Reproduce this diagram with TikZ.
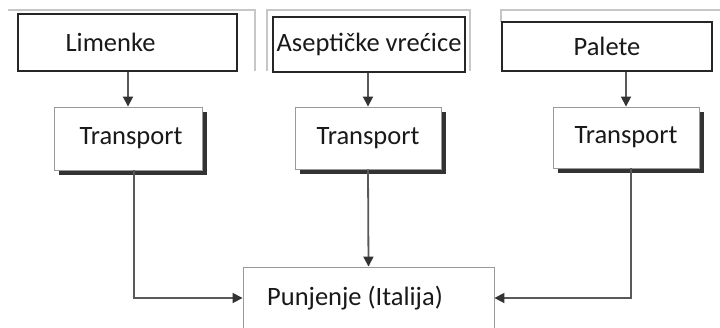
\documentclass[tikz,border=0pt]{standalone}
\usepackage{fontspec}
\setmainfont{Carlito}
\usetikzlibrary{arrows.meta,shadows,positioning}

\begin{document}
\begin{tikzpicture}[x=1pt,y=-1pt,
      every node/.style={font=\fontsize{26.5}{30}\selectfont,text=black!90,inner sep=0pt},
      source/.style={draw=black!85,line width=1.4pt,rectangle},
      transit/.style={draw=black!40,line width=0.9pt,fill=white,rectangle,
                      drop shadow={shadow xshift=5pt,shadow yshift=-5pt,opacity=1,fill=black!80}},
      target/.style={draw=black!40,line width=0.9pt,rectangle},
      frame/.style={draw=black!22,line width=1.6pt},
      link/.style={draw=black!65,line width=1.8pt,-{Triangle[width=10pt,length=10pt,color=black!80]}}
     ]
    \useasboundingbox (0,0) rectangle (720,327);
    % frames of the screenshots
    \draw[frame] (8,10) -- (255,10) -- (255,71);
    \draw[frame] (267,71) -- (267,10) -- (470,10) -- (470,71);
    \draw[frame] (501,22) -- (501,10) -- (720,10);
    % sources
    \node[source,minimum width=219pt,minimum height=57pt] (lim) at (127.5,42.5) {Limenke\hspace*{34pt}};
    \node[source,minimum width=192pt,minimum height=55pt] (asep) at (369,44.5) {Aseptičke vrećice};
    \node[source,minimum width=210pt,minimum height=49pt] (pal) at (607,46.5) {Palete};
    % transport
    \node[transit,minimum width=148pt,minimum height=63pt] (tr1) at (128,138.5) {\hspace*{6pt}Transport};
    \node[transit,minimum width=146pt,minimum height=62pt] (tr2) at (368,138) {Transport};
    \node[transit,minimum width=146pt,minimum height=61pt] (tr3) at (626,137.5) {Transport};
    % filling
    \node[target,minimum width=251pt,minimum height=62pt] (fill) at (368.5,298) {\raisebox{5pt}{Punjenje (Italija)}\hspace*{27pt}};
    % links
    \draw[link] (lim.south -| tr1.north) -- (tr1.north);
    \draw[link] (asep.south -| tr2.north) -- (tr2.north);
    \draw[link] (pal.south -| tr3.north) -- (tr3.north);
    \draw[link] ([xshift=6pt]tr1.south) |- (fill.west);
    \draw[link] (tr2.south) -- (fill.north);
    \draw[link] ([xshift=5pt]tr3.south) |- (fill.east);
\end{tikzpicture}
\end{document}
